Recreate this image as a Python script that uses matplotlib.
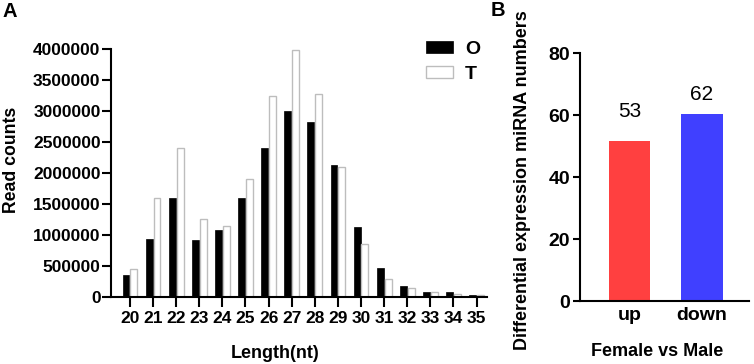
import matplotlib
matplotlib.use("Agg")
import matplotlib.pyplot as plt
import numpy as np

plt.rcParams['font.family'] = ['Liberation Sans', 'DejaVu Sans']

# ---- Panel A data ----
lengths = [20, 21, 22, 23, 24, 25, 26, 27, 28, 29, 30, 31, 32, 33, 34, 35]
counts_O = [345000, 937000, 1595000, 916000, 1073000, 1600000, 2407000, 3000000,
            2817000, 2128000, 1131000, 469000, 173000, 70000, 80000, 20000]
counts_T = [440000, 1590000, 2400000, 1255000, 1142000, 1897000, 3237000, 3980000,
            3275000, 2090000, 851000, 286000, 136000, 80000, 40000, 20000]
series_names = ['O', 'T']
yticks_A = [0, 500000, 1000000, 1500000, 2000000, 2500000, 3000000, 3500000, 4000000]

# ---- Panel B data ----
groups_B = ['up', 'down']
values_B = [51.7, 60.5]
labels_B = ['53', '62']
yticks_B = [0, 20, 40, 60, 80]

W, H = 754, 364
fig = plt.figure(figsize=(W / 100, H / 100), dpi=100)

def fx(px):
    return px / W

def fy(py):
    return 1 - py / H

# Panel A axes
axA = fig.add_axes([fx(111), fy(296.7), fx(486.7 - 111), (296.7 - 49) / H])
x = np.array(lengths, dtype=float)
bw = 0.30
off = 0.17
axA.bar(x - off, counts_O, width=bw, color='black', edgecolor='black', linewidth=0.5,
        label=series_names[0])
axA.bar(x + off, counts_T, width=bw, color='white', edgecolor='#bdbdbd', linewidth=1.0,
        label=series_names[1])
axA.set_xlim(19.18, 35.44)
axA.set_ylim(0, 4000000)
axA.set_xticks(lengths)
axA.set_xticklabels([str(v) for v in lengths])
axA.set_yticks(yticks_A)
axA.set_yticklabels([str(v) for v in yticks_A])
for s in ['top', 'right']:
    axA.spines[s].set_visible(False)
for s in ['left', 'bottom']:
    axA.spines[s].set_linewidth(1.5)
axA.tick_params(axis='x', length=7.2, width=1.5, pad=3.0, labelsize=12.5)
axA.tick_params(axis='y', length=6.5, width=1.5, pad=1.0, labelsize=12.5)
for lab in axA.get_xticklabels() + axA.get_yticklabels():
    lab.set_fontweight('bold')

leg = axA.legend(loc='upper left', bbox_to_anchor=(fx(426), fy(41)),
                 bbox_transform=fig.transFigure, frameon=False, borderpad=0,
                 borderaxespad=0, handlelength=1.4, handleheight=0.55,
                 handletextpad=0.6, labelspacing=0.4,
                 prop={'weight': 'bold', 'size': 14})

# Panel B axes
axB = fig.add_axes([fx(580), fy(301), fx(748.7 - 580), (301 - 53.3) / H])
xb = np.arange(len(groups_B))
barsB = axB.bar(xb, values_B, width=0.566, color=['#ff4040', '#4040ff'])
axB.set_xlim(-0.683, 1.644)
axB.set_ylim(0, 80)
axB.set_yticks(yticks_B)
axB.set_xticks(xb)
axB.set_xticklabels(groups_B)
for s in ['top', 'right']:
    axB.spines[s].set_visible(False)
for s in ['left', 'bottom']:
    axB.spines[s].set_linewidth(1.5)
axB.tick_params(axis='x', length=0, pad=4, labelsize=14)
axB.tick_params(axis='y', length=5, width=1.5, pad=2, labelsize=14)
for lab in axB.get_xticklabels() + axB.get_yticklabels():
    lab.set_fontweight('bold')
label_offsets = [17, 9.5]
for b, txt, o in zip(barsB, labels_B, label_offsets):
    axB.annotate(txt, (b.get_x() + b.get_width() / 2, b.get_height()),
                 xytext=(0, o), textcoords='offset points', ha='center',
                 va='baseline', fontsize=15)

# Text labels
fig.text(fx(9.7), fy(11.7), 'A', ha='center', va='center', fontsize=14.5, fontweight='bold')
fig.text(fx(497.5), fy(10), 'B', ha='center', va='center', fontsize=14.5, fontweight='bold')
fig.text(fx(12), fy(160), 'Read counts', rotation=90, ha='center', va='center',
         fontsize=12.7, fontweight='bold')
fig.text(fx(275), fy(353), 'Length(nt)', ha='center', va='center',
         fontsize=13, fontweight='bold')
fig.text(fx(522.5), fy(180), 'Differential expression miRNA numbers', rotation=90,
         ha='center', va='center', fontsize=13, fontweight='bold')
fig.text(fx(656.7), fy(351), 'Female vs Male', ha='center', va='center',
         fontsize=13, fontweight='bold')

fig.savefig('out.png', dpi=100)
